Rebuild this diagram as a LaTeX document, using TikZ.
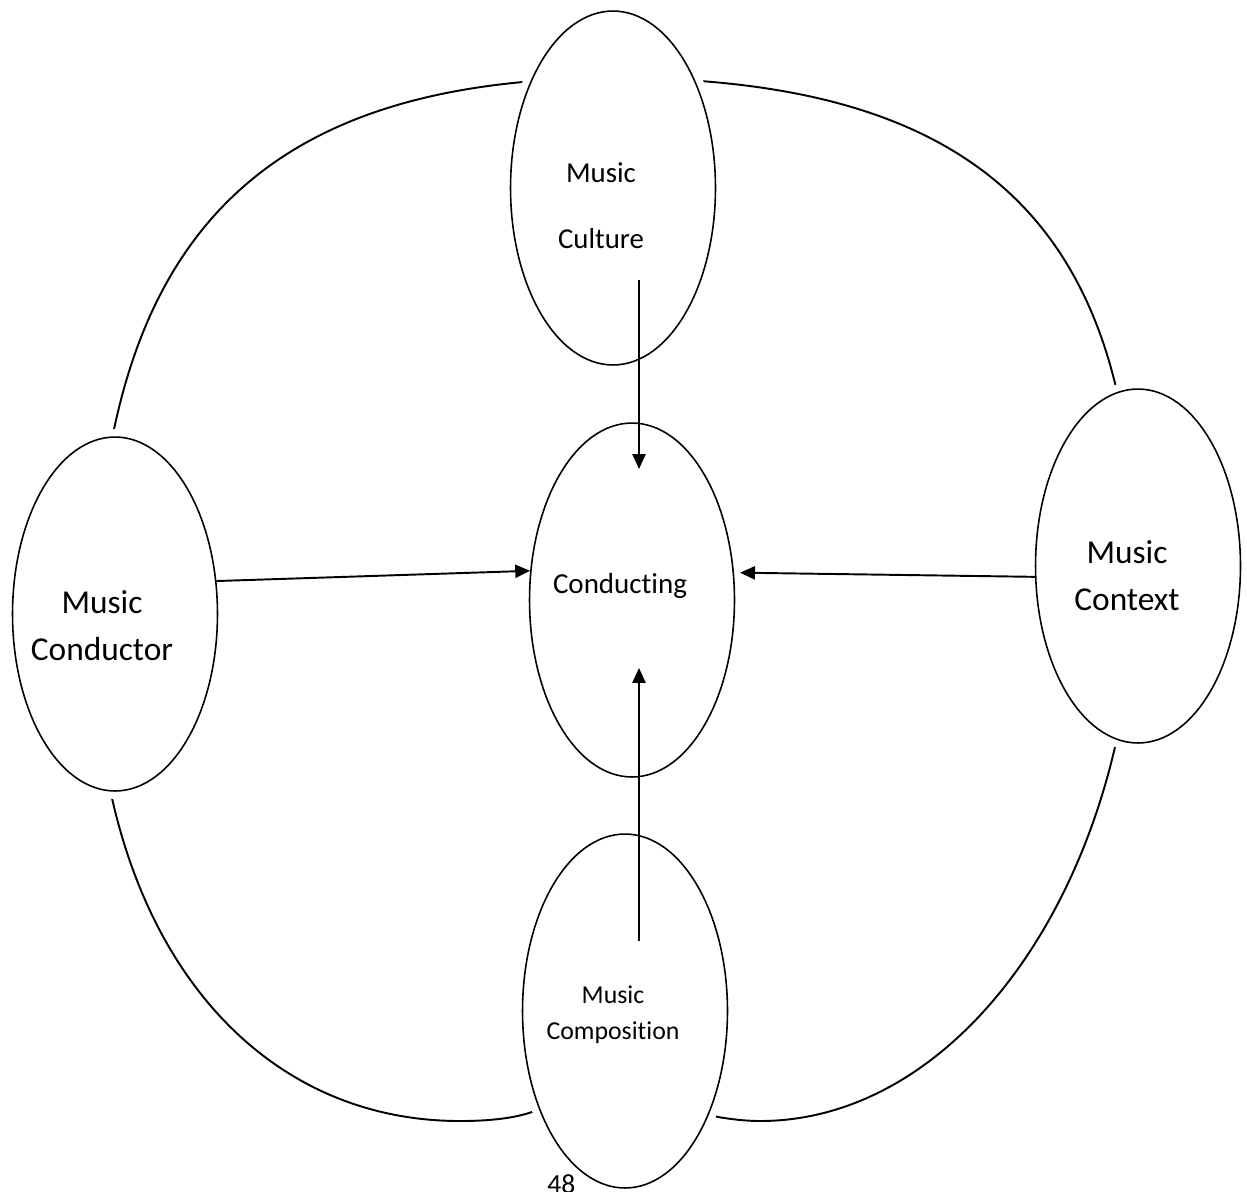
\documentclass[tikz,border=0pt]{standalone}
\usepackage{fontspec}
\setmainfont[Ligatures=NoCommon]{Carlito}
\usetikzlibrary{shapes,arrows.meta,positioning,calc}

\begin{document}
\begin{tikzpicture}[x=0.02cm, y=-0.02cm,
    oval/.style={ellipse, draw, fill=white, line width=0.9pt, minimum width=4.1cm, minimum height=7.08cm, inner sep=0pt,
        preaction={draw=white, line width=9pt}},
    lbl/.style={align=center, anchor=base, inner sep=0pt},
    arr/.style={line width=1.1pt, -{Triangle[length=8.5pt, width=7.5pt]}},
    rim/.style={line width=1.1pt}]
    \useasboundingbox (0,0) rectangle (1247,1191);

    % outer ring, the ovals cut it where they sit
    \draw[rim] (615,78) .. controls (979,78) and (1135,226) .. (1135,570)
        .. controls (1135,873) and (966,1121) .. (760,1121)
        .. controls (745,1121) and (730,1119) .. (718,1117)
        .. controls (690,1108) and (560,1104) .. (532,1112)
        .. controls (520,1116) and (500,1121) .. (460,1121)
        .. controls (243,1121) and (95,927) .. (95,637)
        .. controls (95,246) and (251,78) .. (615,78);

    \node[oval] (culture) at (613,188) {};
    \node[oval] (conductor) at (115,614) {};
    \node[oval] (conducting) at (632,600) {};
    \node[oval] (context) at (1138,566) {};
    \node[oval] (composition) at (625,1011) {};

    \node[lbl, font=\fontsize{16.4}{37.4}\selectfont] (cultureText) at (601,248) {Music\\Culture};
    \node[lbl, font=\fontsize{19}{26.7}\selectfont] (conductorText) at (102,660) {Music\\Conductor};
    \node[lbl, font=\fontsize{16.5}{20}\selectfont] (conductingText) at (620,593) {Conducting};
    \node[lbl, font=\fontsize{19}{26.7}\selectfont] (contextText) at (1127,610) {Music\\Context};
    \node[lbl, font=\fontsize{14.7}{20.4}\selectfont] (compositionText) at (613,1039) {Music\\Composition};

    \coordinate (cultureTail) at (639,280);
    \coordinate (conductingTop) at (639,469);
    \coordinate (compositionTail) at (639,941);
    \coordinate (conductingBottom) at (639,668);

    \draw[arr] (cultureTail) -- (conductingTop);
    \draw[arr] (conductor.18) -- (conducting.164);
    \draw[arr] (context.186) -- ([xshift=0.12cm]conducting.15);
    \draw[arr] (compositionTail) -- (conductingBottom);

    \node[anchor=base west, inner sep=0pt, font=\fontsize{15.7}{19}\selectfont] (pageNo) at (547,1193) {48};
\end{tikzpicture}
\end{document}
